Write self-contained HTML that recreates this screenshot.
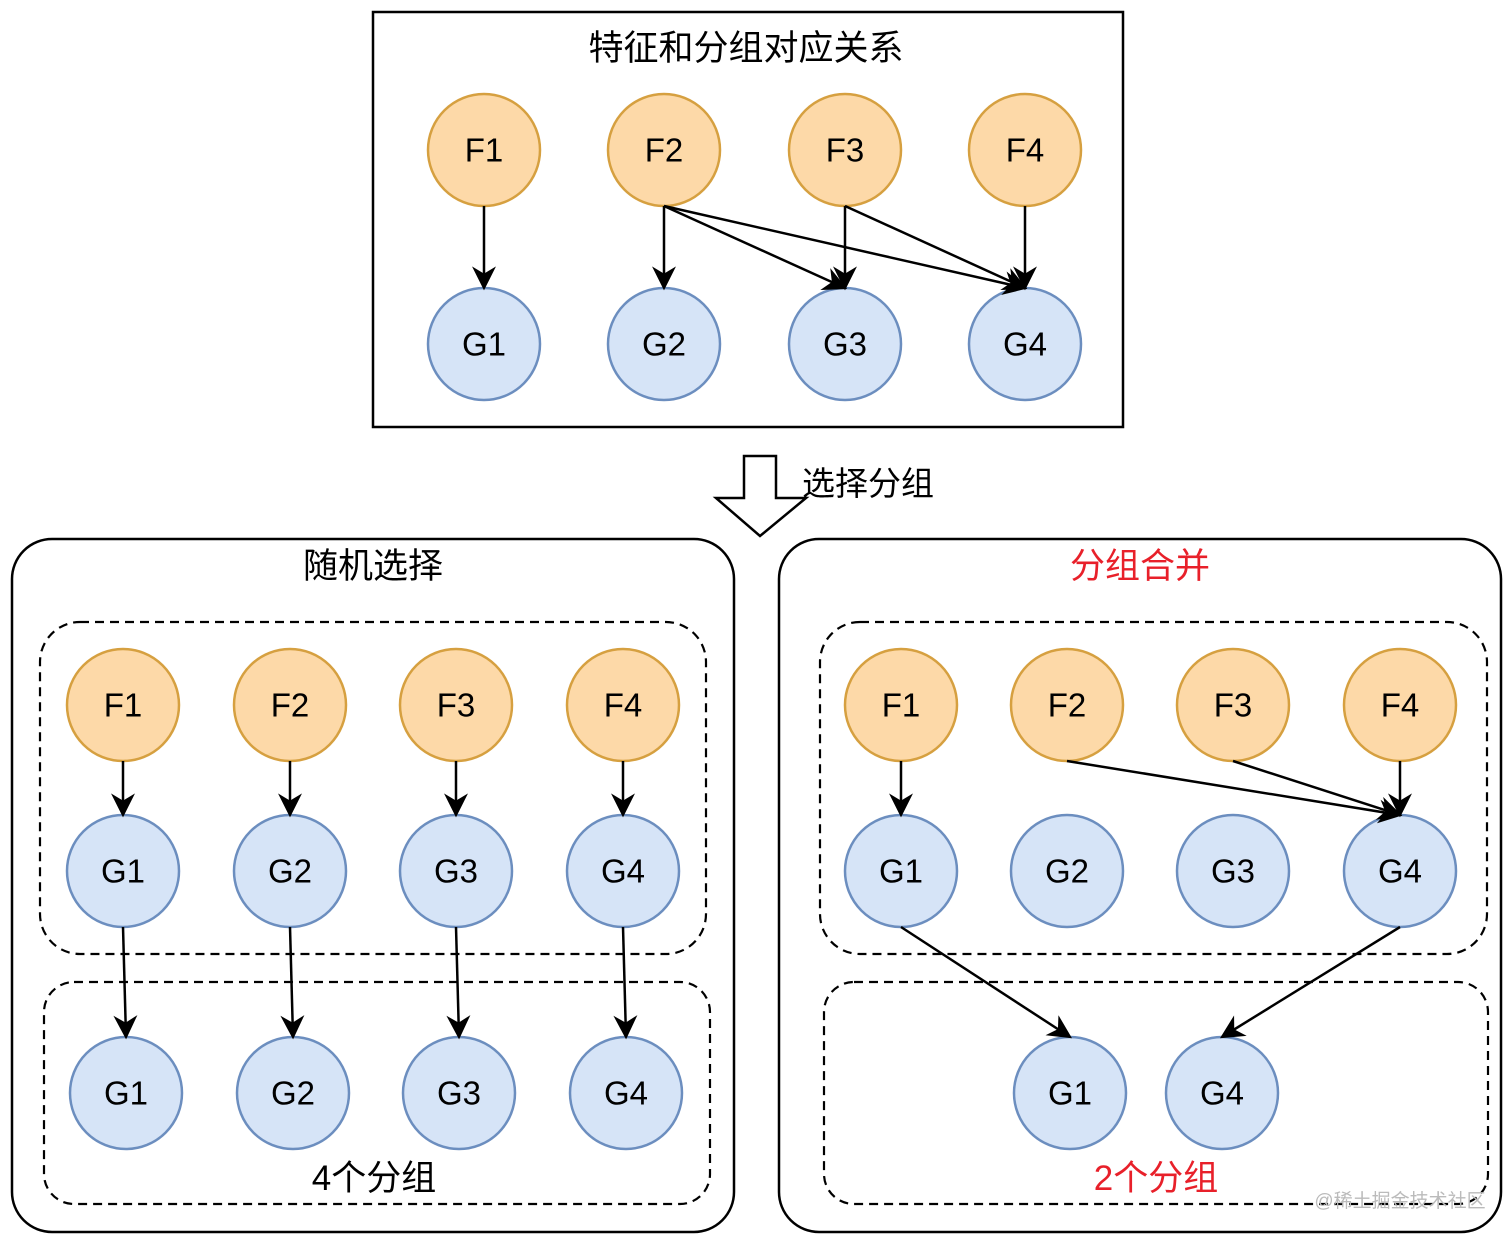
<!DOCTYPE html>
<html><head><meta charset="utf-8">
<style>
html,body{margin:0;padding:0;background:#fff;}
svg{display:block;}
text{font-family:"Liberation Sans","Noto Sans CJK SC",sans-serif;}
</style></head>
<body>
<svg width="1512" height="1242" viewBox="0 0 1512 1242" xmlns="http://www.w3.org/2000/svg">
<defs>
<marker id="ar" viewBox="0 0 20 20" refX="18" refY="10" markerWidth="24" markerHeight="24" markerUnits="userSpaceOnUse" orient="auto">
<path d="M0,0 L20,10 L0,20 L6,10 Z" fill="#000"/>
</marker>
</defs>
<style>
.f{fill:#fdd9a8;stroke:#d6a040;stroke-width:2.5}
.g{fill:#d6e4f7;stroke:#6c8ebf;stroke-width:2.5}
.t{font-size:33px;text-anchor:middle;dominant-baseline:central;fill:#000}
.e{stroke:#000;stroke-width:2.5;fill:none;marker-end:url(#ar)}
.d{fill:none;stroke:#000;stroke-width:2.2;stroke-dasharray:9 6}
.h{font-size:35px;text-anchor:middle;fill:#000}
</style>

<rect x="373" y="12" width="750" height="415" fill="none" stroke="#000" stroke-width="2.5"/>
<text class="h" x="746" y="60">特征和分组对应关系</text>
<g>
<circle class="f" cx="484" cy="150" r="56"/><text class="t" x="484" y="150">F1</text>
<circle class="f" cx="664" cy="150" r="56"/><text class="t" x="664" y="150">F2</text>
<circle class="f" cx="845" cy="150" r="56"/><text class="t" x="845" y="150">F3</text>
<circle class="f" cx="1025" cy="150" r="56"/><text class="t" x="1025" y="150">F4</text>
<circle class="g" cx="484" cy="344" r="56"/><text class="t" x="484" y="344">G1</text>
<circle class="g" cx="664" cy="344" r="56"/><text class="t" x="664" y="344">G2</text>
<circle class="g" cx="845" cy="344" r="56"/><text class="t" x="845" y="344">G3</text>
<circle class="g" cx="1025" cy="344" r="56"/><text class="t" x="1025" y="344">G4</text>
<line class="e" x1="484" y1="206" x2="484" y2="288"/>
<line class="e" x1="664" y1="206" x2="664" y2="288"/>
<line class="e" x1="664" y1="206" x2="845" y2="288"/>
<line class="e" x1="664" y1="206" x2="1025" y2="288"/>
<line class="e" x1="845" y1="206" x2="845" y2="288"/>
<line class="e" x1="845" y1="206" x2="1025" y2="288"/>
<line class="e" x1="1025" y1="206" x2="1025" y2="288"/>
</g>

<path d="M744,456 L776,456 L776,498 L806,498 L760,536 L716,498 L744,498 Z" fill="#fff" stroke="#000" stroke-width="2.5"/>
<text x="802" y="495" font-size="33" fill="#000">选择分组</text>

<rect x="12" y="539" width="722" height="693" rx="40" fill="none" stroke="#000" stroke-width="2.5"/>
<text class="h" x="373" y="578">随机选择</text>
<rect class="d" x="40" y="622" width="666" height="332" rx="40"/>
<rect class="d" x="44" y="982" width="666" height="222" rx="30"/>
<g>
<circle class="f" cx="123" cy="705" r="56"/><text class="t" x="123" y="705">F1</text>
<circle class="f" cx="290" cy="705" r="56"/><text class="t" x="290" y="705">F2</text>
<circle class="f" cx="456" cy="705" r="56"/><text class="t" x="456" y="705">F3</text>
<circle class="f" cx="623" cy="705" r="56"/><text class="t" x="623" y="705">F4</text>
<circle class="g" cx="123" cy="871" r="56"/><text class="t" x="123" y="871">G1</text>
<circle class="g" cx="290" cy="871" r="56"/><text class="t" x="290" y="871">G2</text>
<circle class="g" cx="456" cy="871" r="56"/><text class="t" x="456" y="871">G3</text>
<circle class="g" cx="623" cy="871" r="56"/><text class="t" x="623" y="871">G4</text>
<circle class="g" cx="126" cy="1093" r="56"/><text class="t" x="126" y="1093">G1</text>
<circle class="g" cx="293" cy="1093" r="56"/><text class="t" x="293" y="1093">G2</text>
<circle class="g" cx="459" cy="1093" r="56"/><text class="t" x="459" y="1093">G3</text>
<circle class="g" cx="626" cy="1093" r="56"/><text class="t" x="626" y="1093">G4</text>
<line class="e" x1="123" y1="761" x2="123" y2="815"/>
<line class="e" x1="290" y1="761" x2="290" y2="815"/>
<line class="e" x1="456" y1="761" x2="456" y2="815"/>
<line class="e" x1="623" y1="761" x2="623" y2="815"/>
<line class="e" x1="123" y1="927" x2="126" y2="1037"/>
<line class="e" x1="290" y1="927" x2="293" y2="1037"/>
<line class="e" x1="456" y1="927" x2="459" y2="1037"/>
<line class="e" x1="623" y1="927" x2="626" y2="1037"/>
</g>
<text class="h" x="374" y="1190">4个分组</text>

<rect x="779" y="539" width="722" height="693" rx="40" fill="none" stroke="#000" stroke-width="2.5"/>
<text class="h" x="1140" y="578" style="fill:#e8202a">分组合并</text>
<rect class="d" x="820" y="622" width="667" height="332" rx="40"/>
<rect class="d" x="824" y="982" width="664" height="222" rx="30"/>
<g>
<circle class="f" cx="901" cy="705" r="56"/><text class="t" x="901" y="705">F1</text>
<circle class="f" cx="1067" cy="705" r="56"/><text class="t" x="1067" y="705">F2</text>
<circle class="f" cx="1233" cy="705" r="56"/><text class="t" x="1233" y="705">F3</text>
<circle class="f" cx="1400" cy="705" r="56"/><text class="t" x="1400" y="705">F4</text>
<circle class="g" cx="901" cy="871" r="56"/><text class="t" x="901" y="871">G1</text>
<circle class="g" cx="1067" cy="871" r="56"/><text class="t" x="1067" y="871">G2</text>
<circle class="g" cx="1233" cy="871" r="56"/><text class="t" x="1233" y="871">G3</text>
<circle class="g" cx="1400" cy="871" r="56"/><text class="t" x="1400" y="871">G4</text>
<circle class="g" cx="1070" cy="1093" r="56"/><text class="t" x="1070" y="1093">G1</text>
<circle class="g" cx="1222" cy="1093" r="56"/><text class="t" x="1222" y="1093">G4</text>
<line class="e" x1="901" y1="761" x2="901" y2="815"/>
<line class="e" x1="1067" y1="761" x2="1400" y2="815"/>
<line class="e" x1="1233" y1="761" x2="1400" y2="815"/>
<line class="e" x1="1400" y1="761" x2="1400" y2="815"/>
<line class="e" x1="901" y1="927" x2="1070" y2="1037"/>
<line class="e" x1="1400" y1="927" x2="1222" y2="1037"/>
</g>
<text class="h" x="1156" y="1190" style="fill:#e8202a">2个分组</text>
<text x="1400" y="1207" font-size="19" text-anchor="middle" fill="#bbb">@稀土掘金技术社区</text>
</svg>
</body></html>
